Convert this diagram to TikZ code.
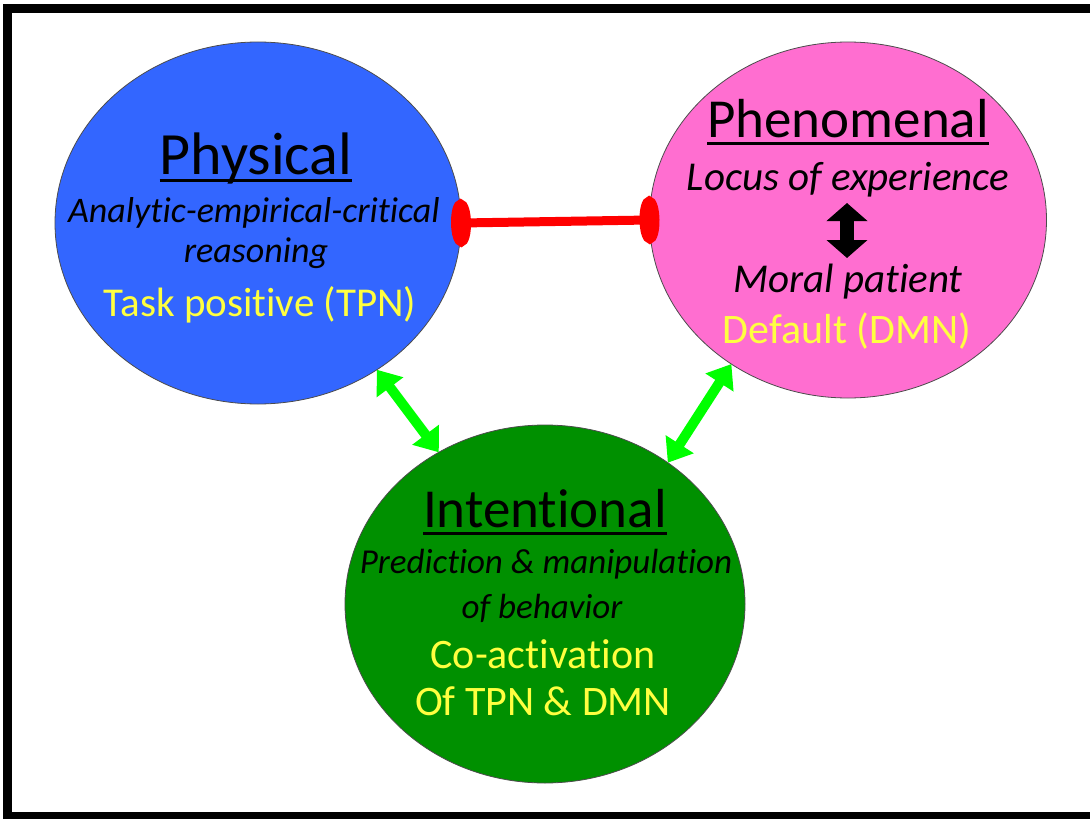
\documentclass[tikz,border=0pt]{standalone}
\usepackage{fontspec}
\setmainfont{Carlito}[RawFeature={-liga;-clig;-calt;-dlig;-rlig}]
\usetikzlibrary{arrows.meta,shapes.geometric}
\definecolor{physblue}{RGB}{51,102,255}
\definecolor{phenpink}{RGB}{255,110,208}
\definecolor{intgreen}{RGB}{0,144,0}
\definecolor{labyellow}{RGB}{255,255,64}
\definecolor{arrgreen}{RGB}{0,255,0}
\definecolor{capred}{RGB}{255,0,0}
\newcommand\ulbox[1]{\setbox0\hbox{#1}\rlap{\raisebox{-8bp}{\rule{\wd0}{3bp}}}\box0}
\newcommand\fsz[1]{\fontsize{#1bp}{#1bp}\selectfont}
\begin{document}
\begin{tikzpicture}[x=1bp,y=-1bp,
  blob/.style={ellipse,draw=black!70,line width=0.8bp,inner sep=0,outer sep=0},
  ttl/.style={anchor=base,inner sep=0,text=black},
  itl/.style={anchor=base,inner sep=0,text=black,font=\itshape},
  yel/.style={anchor=base,inner sep=0,text=labyellow},
  greenarr/.style={draw=arrgreen,line width=10bp,{Triangle[width=32bp,length=22bp]}-{Triangle[width=32bp,length=22bp]}},
  redbar/.style={draw=capred,line width=9bp,{Ellipse[length=20bp,width=47bp]}-{Ellipse[length=20bp,width=47bp]},shorten <=-10bp,shorten >=-10bp},
  blackarr/.style={draw=black,line width=14bp,{Triangle[width=40bp,length=18bp]}-{Triangle[width=40bp,length=18bp]}}
]
\useasboundingbox (0,0) rectangle (1090,819);
\fill[white] (0,0) rectangle (1090,819);
\draw[line width=9bp] (7.5,8.5) rectangle (1110,816.5);

\node[blob,fill=physblue,minimum width=406bp,minimum height=362bp] (phys) at (258,223) {};
\node[blob,fill=phenpink,minimum width=397bp,minimum height=356bp] (phen) at (848,220) {};
\node[blob,fill=intgreen,minimum width=400bp,minimum height=358bp] (inten) at (545,604) {};

% Physical
\node[ttl,font=\fsz{60}] (physT) at (256,174) {\ulbox{Physical}};
\node[itl,font=\fsz{36}\itshape] (physA) at (254,222) {Analytic-empirical-critical};
\node[itl,font=\fsz{36}\itshape] (physB) at (256,262) {reasoning};
\node[yel,font=\fsz{41}] (physC) at (260,316) {Task positive (TPN)};

% Phenomenal
\node[ttl,font=\fsz{55}] (phenT) at (848,137) {\ulbox{Phenomenal}};
\node[itl,font=\fsz{41}\itshape] (phenA) at (848,190) {Locus of experience};
\node[itl,font=\fsz{41}\itshape] (phenB) at (848,292) {Moral patient};
\node[yel,font=\fsz{42}] (phenC) at (847,343) {Default (DMN)};
\coordinate (bt) at (847,203);
\coordinate (bb) at (847,258);
\draw[blackarr] (bt) -- (bb);

% Intentional
\node[ttl,font=\fsz{55}] (intT) at (545,527) {\ulbox{Intentional}};
\node[itl,font=\fsz{35}\itshape] (intA) at (546,573) {Prediction \& manipulation};
\node[itl,font=\fsz{35}\itshape] (intB) at (542,618) {of behavior};
\node[yel,font=\fsz{42}] (intC) at (543,668) {Co-activation};
\node[yel,font=\fsz{42}] (intD) at (543,715) {Of TPN \& DMN};

% connectors
\draw[redbar] (phys.east) -- (phen.west);
\draw[greenarr] (phys.-51.3) -- (inten.125.4);
\draw[greenarr] (phen.231.3) -- (inten.49.4);
\end{tikzpicture}
\end{document}
